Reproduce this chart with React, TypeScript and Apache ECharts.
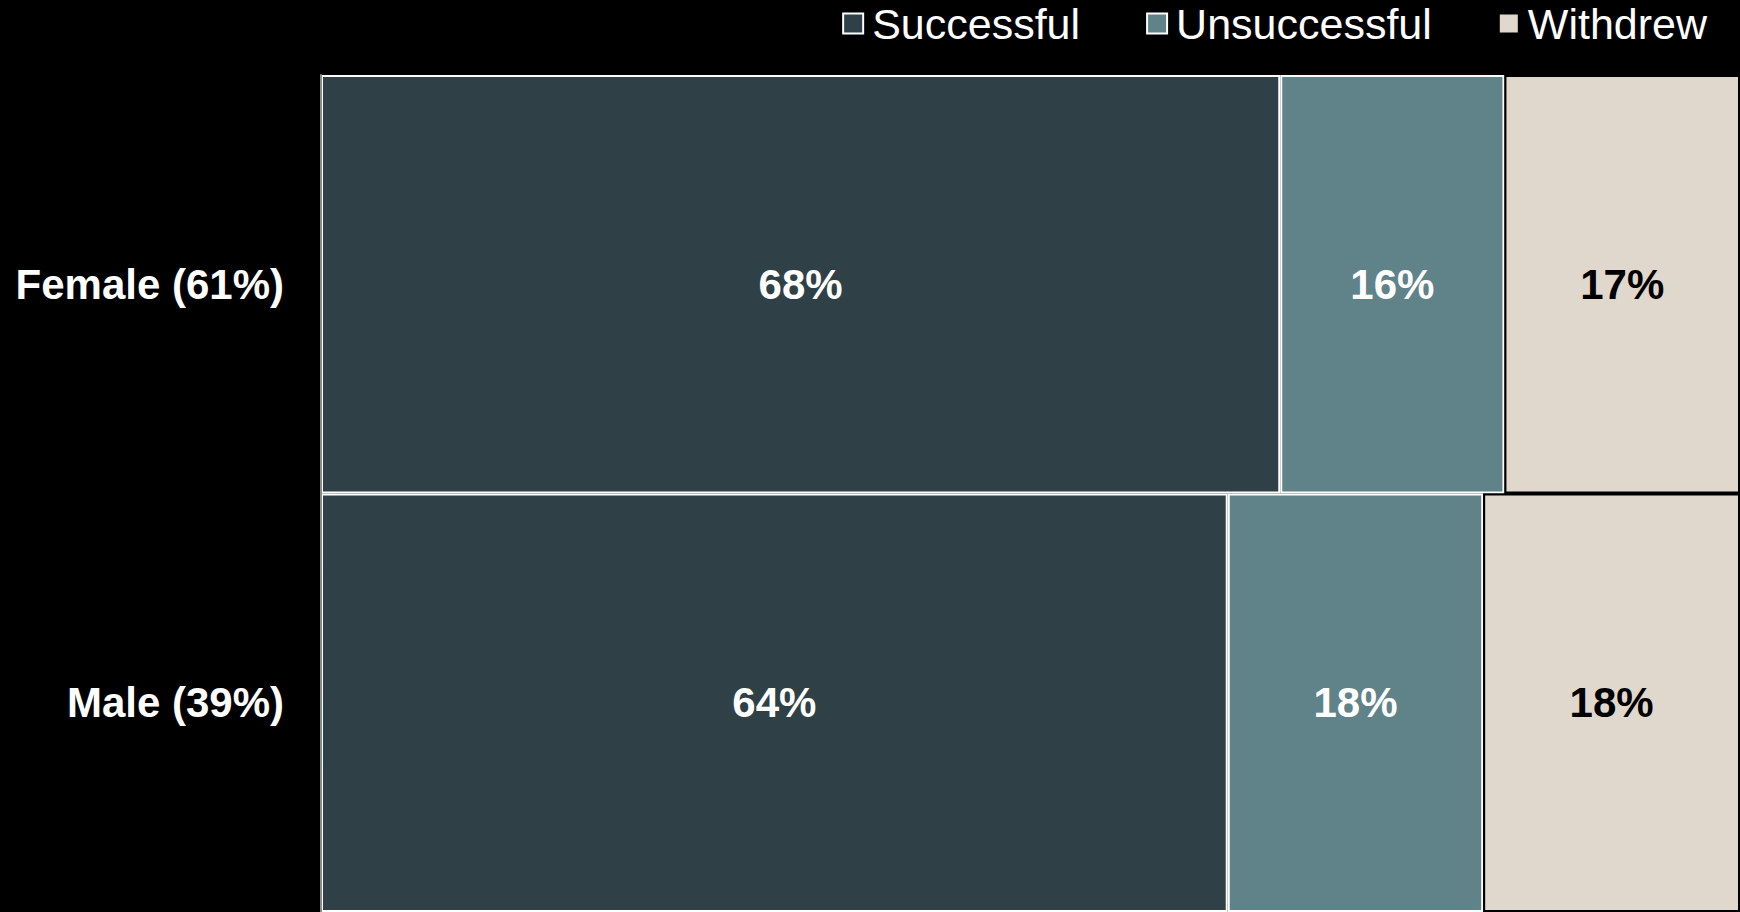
import React, { useEffect, useRef } from "react";
import * as echarts from "echarts";

const categories = ["Female (61%)", "Male (39%)"];
const seriesNames = ["Successful", "Unsuccessful", "Withdrew"];
const successful = [67.6, 63.9];
const unsuccessful = [15.8, 18.0];
const withdrew = [16.6, 18.1];
const colors = ["#2F4046", "#5F8388", "#E0D8CC"];
const borderColors = ["#FFFFFF", "#FFFFFF", "#000000"];
const labelColors = ["#FFFFFF", "#FFFFFF", "#000000"];

const FONT = "'Liberation Sans', Arial, sans-serif";

export default function App() {
  const ref = useRef<HTMLDivElement>(null);
  useEffect(() => {
    document.body.style.margin = "0";
    document.body.style.background = "#000";
    if (!ref.current) return;
    const chart = echarts.init(ref.current, null, { renderer: "svg" });
    const values = [successful, unsuccessful, withdrew];
    chart.setOption({
      animation: false,
      backgroundColor: "#000000",
      legend: {
        right: 28,
        top: -3,
        icon: "rect",
        itemWidth: 20,
        itemHeight: 20,
        itemGap: 66,
        textStyle: { color: "#FFFFFF", fontSize: 43, fontFamily: FONT, padding: [0, 0, 0, 4] },
        data: seriesNames,
      },
      grid: { left: 321, top: 75, right: 0, bottom: -4, containLabel: false },
      xAxis: { type: "value", min: 0, max: 100, show: false },
      yAxis: {
        type: "category",
        data: categories,
        inverse: true,
        axisTick: { show: false },
        axisLine: { show: true, lineStyle: { color: "#8A8A8A", width: 2 } },
        axisLabel: { color: "#FFFFFF", fontSize: 42, fontWeight: "bold", fontFamily: FONT, margin: 37 },
        z: 10,
      },
      series: seriesNames.map((name, i) => ({
        name,
        type: "bar",
        stack: "total",
        barCategoryGap: "0%",
        data: values[i],
        itemStyle: { color: colors[i], borderColor: borderColors[i], borderWidth: 2 },
        label: {
          show: true,
          position: "inside",
          color: labelColors[i],
          fontSize: 42,
          fontWeight: "bold",
          fontFamily: FONT,
          formatter: (p: any) => Math.round(p.value) + "%",
        },
      })),
    });
    return () => chart.dispose();
  }, []);
  return <div ref={ref} style={{ width: 1740, height: 912, position: "absolute", left: 0, top: 0 }} />;
}
